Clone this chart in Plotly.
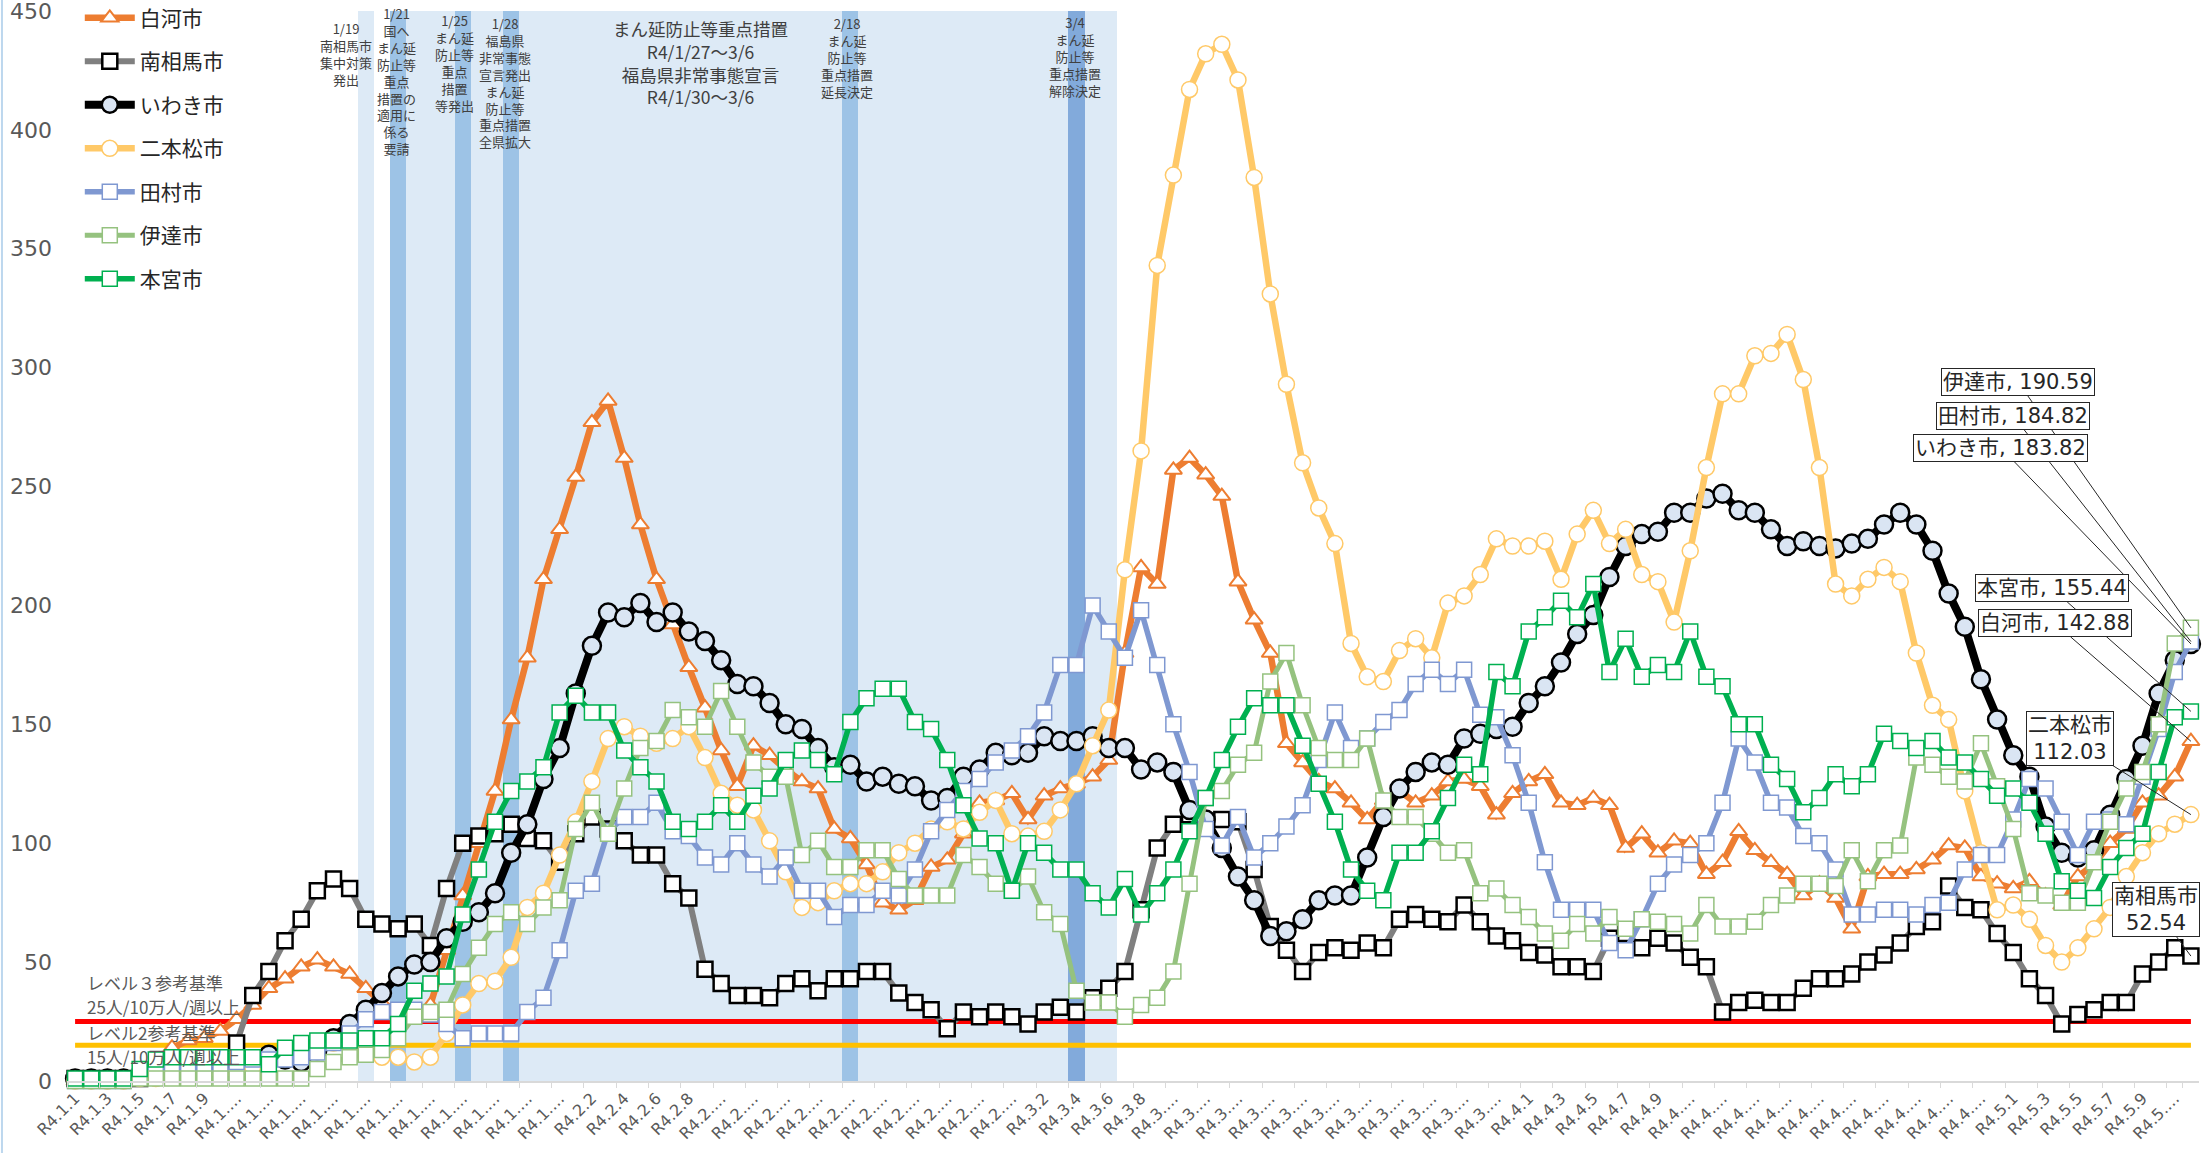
import plotly.graph_objects as go

# ---------------- categories (one per day, R4.1.1 .. R4.5.12) ----------------
month_lengths = [(1, 31), (2, 28), (3, 31), (4, 30), (5, 12)]
month_day = [(m, d) for m, n in month_lengths for d in range(1, n + 1)]
dates = [f"R4.{m}.{d}" for m, d in month_day]
# displayed tick labels (every 2nd day; two-digit days are shown truncated as in the original)
tick_vals = dates[::2]
tick_text = [f"R4.{m}.{d}" if d < 10 else f"R4.{m}.…" for (m, d) in month_day[::2]]

# ---------------- series values (per 100k per week) ----------------
shirakawa = [0, 0, 0, 0, 2, 8, 14, 17, 18, 21,
             26, 32, 39, 43, 48, 51, 48, 45, 39, 33,
             29, 28, 32, 55, 78, 100, 122, 152, 178, 211,
             232, 254, 277, 286, 262, 234, 211, 192, 174, 157,
             139, 124, 141, 137, 131, 126, 123, 106, 102, 91,
             75, 72, 76, 90, 93, 104, 117, 118, 121, 110,
             120, 123, 125, 128, 135, 180, 216, 209, 257, 262,
             255, 246, 210, 194, 180, 142, 134, 126, 123, 117,
             110, 118, 122, 117, 120, 126, 127, 124, 112, 121,
             126, 129, 117, 116, 119, 116, 98, 104, 96, 101,
             100, 87, 92, 105, 97, 92, 87, 78, 83, 77,
             64, 86, 87, 87, 89, 93, 99, 98, 86, 83,
             81, 84, 78, 74, 86, 91, 100, 106, 117, 120,
             128, 142.88]

minamisoma = [1, 1, 1, 1, 1, 2, 3, 4, 5, 8,
              16, 36, 46, 59, 68, 80, 85, 81, 68, 66,
              64, 66, 57, 81, 100, 103, 104, 108, 102, 101,
              92, 104, 111, 106, 101, 95, 95, 83, 77, 47,
              41, 36, 36, 35, 41, 43, 38, 43, 43, 46,
              46, 37, 33, 30, 22, 29, 27, 29, 27, 24,
              29, 31, 29, 35, 39, 46, 72, 98, 108, 112,
              108, 110, 109, 89, 65, 55, 46, 54, 56, 55,
              58, 56, 68, 70, 68, 67, 74, 67, 61, 59,
              54, 53, 48, 48, 46, 60, 62, 56, 60, 58,
              52, 48, 29, 33, 34, 33, 33, 39, 43, 43,
              45, 50, 53, 58, 65, 67, 82, 73, 72, 62,
              54, 43, 36, 24, 28, 30, 33, 33, 45, 50,
              56, 52.54]

iwaki = [1, 1, 1, 1, 2, 2, 3, 3, 4, 5,
         5, 8, 11, 9, 8, 13, 18, 24, 30, 37,
         44, 49, 50, 60, 67, 71, 79, 96, 108, 127,
         140, 163, 183, 197, 195, 201, 193, 197, 189, 185,
         177, 167, 166, 159, 150, 148, 140, 132, 133, 126,
         128, 125, 124, 118, 119, 128, 131, 138, 137, 138,
         145, 143, 143, 145, 140, 140, 131, 134, 130, 114,
         110, 98, 86, 76, 61, 63, 68, 76, 78, 78,
         94, 111, 123, 130, 134, 133, 144, 146, 148, 149,
         159, 166, 176, 188, 196, 212, 225, 230, 231, 239,
         239, 245, 247, 240, 239, 232, 225, 227, 225, 224,
         226, 228, 234, 239, 234, 223, 205, 191, 169, 152,
         137, 128, 107, 96, 94, 97, 112, 127, 141, 163,
         177, 183.82]

nihonmatsu = [0, 0, 0, 0, 1, 1, 2, 2, 3, 3,
              4, 6, 8, 10, 13, 15, 16, 15, 13, 10,
              10, 8, 10, 20, 32, 41, 42, 52, 73, 79,
              95, 109, 126, 144, 149, 145, 142, 144, 149, 136,
              121, 116, 114, 101, 88, 73, 75, 80, 83, 83,
              88, 96, 100, 106, 109, 106, 113, 118, 104, 103,
              105, 114, 125, 141, 156, 215, 265, 343, 381, 417,
              432, 436, 421, 380, 331, 293, 260, 241, 226, 184,
              170, 168, 181, 186, 178, 201, 204, 213, 228, 225,
              225, 227, 211, 230, 240, 226, 232, 213, 210, 193,
              223, 258, 289, 289, 305, 306, 314, 295, 258, 209,
              204, 211, 216, 210, 180, 158, 152, 122, 96, 72,
              74, 68, 57, 50, 56, 64, 73, 86, 96, 104,
              108, 112.03]

tamura = [0, 0, 0, 0, 2, 4, 5, 6, 7, 7,
          8, 9, 9, 9, 10, 12, 16, 20, 26, 29,
          30, 30, 28, 24, 18, 20, 20, 20, 29, 35,
          55, 80, 83, 105, 111, 111, 117, 105, 103, 94,
          91, 100, 91, 86, 94, 80, 80, 69, 74, 74,
          80, 78, 89, 105, 114, 122, 127, 134, 139, 145,
          155, 175, 175, 200, 189, 178, 198, 175, 150, 130,
          106, 99, 111, 94, 100, 107, 116, 135, 155, 140,
          144, 151, 156, 167, 173, 167, 173, 154, 153, 137,
          117, 92, 72, 72, 72, 58, 55, 68, 83, 91,
          95, 100, 117, 144, 134, 117, 115, 103, 100, 89,
          70, 70, 72, 72, 70, 74, 75, 89, 95, 95,
          110, 127, 123, 109, 95, 109, 110, 108, 128, 148,
          172, 184.82]

date_city = [0, 0, 0, 0, 1, 1, 1, 1, 1, 1,
             1, 1, 1, 1, 1, 5, 8, 10, 11, 13,
             18, 27, 29, 30, 45, 56, 66, 71, 66, 73,
             76, 106, 117, 104, 123, 140, 143, 156, 153, 149,
             164, 149, 134, 128, 128, 95, 101, 90, 90, 97,
             97, 85, 78, 78, 78, 95, 90, 83, 80, 86,
             71, 66, 38, 33, 33, 27, 32, 35, 46, 83,
             119, 122, 133, 138, 168, 180, 158, 140, 135, 135,
             144, 118, 111, 111, 104, 96, 97, 79, 81, 74,
             69, 62, 59, 66, 62, 69, 64, 68, 67, 66,
             62, 74, 65, 65, 67, 74, 78, 83, 83, 82,
             97, 84, 97, 99, 136, 133, 128, 126, 142, 124,
             106, 79, 78, 75, 75, 92, 109, 123, 130, 150,
             184, 190.59]

motomiya = [1, 1, 1, 1, 5, 9, 10, 10, 10, 10,
            10, 10, 7, 14, 16, 17, 17, 17, 18, 18,
            24, 38, 41, 44, 70, 89, 109, 122, 126, 132,
            155, 162, 155, 155, 139, 132, 126, 109, 106, 109,
            116, 109, 120, 123, 135, 139, 135, 129, 151, 161,
            165, 165, 151, 148, 135, 116, 102, 100, 80, 100,
            96, 89, 89, 79, 73, 85, 70, 79, 89, 105,
            119, 135, 149, 161, 158, 158, 141, 125, 109, 89,
            80, 76, 96, 96, 105, 119, 133, 129, 172, 166,
            189, 195, 202, 195, 209, 172, 186, 170, 175, 172,
            189, 170, 166, 150, 150, 133, 127, 113, 119, 129,
            124, 129, 146, 143, 140, 143, 136, 134, 127, 120,
            123, 117, 104, 84, 80, 77, 90, 98, 104, 130,
            153, 155.44]

# reference levels
level3 = 25
level2 = 15

# shaded periods / event days
light_days = ["R4.1.19"] + dates[dates.index("R4.1.22"): dates.index("R4.3.6") + 1]
event_days = ["R4.1.21", "R4.1.25", "R4.1.28", "R4.2.18"]
event_days_dark = ["R4.3.4"]
shade_top = 450

JP = "Noto Sans CJK JP"
LAT = "DejaVu Sans"
MIX = "DejaVu Sans, Noto Sans CJK JP"

fig = go.Figure()

# shading bars
fig.add_trace(go.Bar(x=light_days, y=[shade_top] * len(light_days), width=1,
                     marker=dict(color="#DDEAF6", line=dict(width=0)),
                     showlegend=False, hoverinfo="skip"))
fig.add_trace(go.Bar(x=event_days, y=[shade_top] * len(event_days), width=1,
                     marker=dict(color="#9DC3E6", line=dict(width=0)),
                     showlegend=False, hoverinfo="skip"))
fig.add_trace(go.Bar(x=event_days_dark, y=[shade_top] * len(event_days_dark), width=1,
                     marker=dict(color="#82AADB", line=dict(width=0)),
                     showlegend=False, hoverinfo="skip"))

# reference level lines
fig.add_trace(go.Scatter(x=dates, y=[level3] * len(dates), mode="lines",
                         line=dict(color="#FF0000", width=5), showlegend=False, hoverinfo="skip"))
fig.add_trace(go.Scatter(x=dates, y=[level2] * len(dates), mode="lines",
                         line=dict(color="#FFC000", width=5), showlegend=False, hoverinfo="skip"))

series = [
    ("白河市", shirakawa, dict(color="#ED7D31", width=6.5),
     dict(symbol="triangle-up", size=15, color="white", line=dict(color="#ED7D31", width=2))),
    ("南相馬市", minamisoma, dict(color="#808080", width=6),
     dict(symbol="square", size=15, color="white", line=dict(color="black", width=2.5))),
    ("いわき市", iwaki, dict(color="black", width=8),
     dict(symbol="circle", size=18, color="#DAE5F3", line=dict(color="black", width=2.5))),
    ("二本松市", nihonmatsu, dict(color="#FFC968", width=6.5),
     dict(symbol="circle", size=16, color="white", line=dict(color="#FFC968", width=1.5))),
    ("田村市", tamura, dict(color="#7F98D1", width=5.5),
     dict(symbol="square", size=15, color="white", line=dict(color="#7F98D1", width=1.5))),
    ("伊達市", date_city, dict(color="#95C27F", width=5),
     dict(symbol="square", size=15, color="white", line=dict(color="#95C27F", width=1.5))),
    ("本宮市", motomiya, dict(color="#00B050", width=5.5),
     dict(symbol="square", size=15, color="white", line=dict(color="#00B050", width=1.5))),
]
for k, (name, vals, ln, mk) in enumerate(series):
    fig.add_trace(go.Scatter(x=dates, y=vals, name=name, mode="lines+markers",
                             line=ln, marker=mk, cliponaxis=False, legendgroup=f"g{k}"))

ann = []
txt_col = "#404040"
# event notes (x as category index)
events = [
    (16.8, 0.9598, "1/19<br>南相馬市<br>集中対策<br>発出", 13),
    (19.9, 0.9346, "1/21<br>国へ<br>まん延<br>防止等<br>重点<br>措置の<br>適用に<br>係る<br>要請", 13),
    (23.5, 0.9514, "1/25<br>まん延<br>防止等<br>重点<br>措置<br>等発出", 13),
    (26.6, 0.9336, "1/28<br>福島県<br>非常事態<br>宣言発出<br>まん延<br>防止等<br>重点措置<br>全県拡大", 13),
    (38.7, 0.9523, "まん延防止等重点措置<br>R4/1/27～3/6<br>福島県非常事態宣言<br>R4/1/30～3/6", 17.5),
    (47.8, 0.9565, "2/18<br>まん延<br>防止等<br>重点措置<br>延長決定", 13),
    (61.9, 0.9575, "3/4<br>まん延<br>防止等<br>重点措置<br>解除決定", 13),
]
for x, y, t, fs in events:
    ann.append(dict(x=x, y=y, xref="x", yref="paper", text=t, showarrow=False,
                    xanchor="center", yanchor="middle", align="center",
                    font=dict(family=JP, size=fs, color=txt_col)))

# level labels
for y, t in [(41.6, "レベル３参考基準"), (31.5, "25人/10万人/週以上"),
             (20.6, "レベル2参考基準"), (10.1, "15人/10万人/週以上")]:
    ann.append(dict(x=0.6, y=y, xref="x", yref="y", text=t, showarrow=False,
                    xanchor="left", yanchor="middle",
                    font=dict(family=JP, size=17, color="#595959")))

# callouts for last values
last = dates[-1]
callouts = [
    ("伊達市, 190.59", date_city[-1], -173, -246),
    ("田村市, 184.82", tamura[-1], -178, -226),
    ("いわき市, 183.82", iwaki[-1], -190, -196),
    ("本宮市, 155.44", motomiya[-1], -139, -123),
    ("白河市, 142.88", shirakawa[-1], -136, -118),
    ("二本松市<br>112.03", nihonmatsu[-1], -121, -76),
    ("南相馬市<br>52.54", minamisoma[-1], -35, -47),
]
for t, v, ax, ay in callouts:
    ann.append(dict(x=last, y=v, xref="x", yref="y", text=t, showarrow=True,
                    arrowhead=0, arrowwidth=1, arrowcolor="#262626", ax=ax, ay=ay,
                    bgcolor="white", bordercolor="#262626", borderwidth=1, borderpad=1,
                    font=dict(family=MIX, size=21, color="#262626")))

fig.update_layout(
    width=2203, height=1153,
    margin=dict(l=67, r=4, t=11, b=72, autoexpand=False),
    paper_bgcolor="white", plot_bgcolor="white",
    barmode="overlay", bargap=0,
    showlegend=True,
    legend=dict(x=0.006, y=1.0125, xanchor="left", yanchor="top",
                bgcolor="rgba(0,0,0,0)", font=dict(family=JP, size=21, color="#262626"),
                itemwidth=50, tracegroupgap=13.2, traceorder="grouped"),
    annotations=ann,
    shapes=[dict(type="line", xref="paper", yref="paper", x0=-0.0305, x1=-0.0305,
                 y0=-0.07, y1=1.02, line=dict(color="#BDD7EE", width=2))],
    hovermode=False,
)
fig.update_xaxes(type="category", categoryorder="array", categoryarray=dates,
                 range=[-0.5, len(dates) - 0.5],
                 tickmode="array", tickvals=tick_vals, ticktext=tick_text,
                 tickangle=-45, tickson="boundaries",
                 tickfont=dict(family=LAT, size=16, color="#595959"),
                 showline=True, linecolor="#D9D9D9", linewidth=1.5,
                 ticks="outside", ticklen=5, tickcolor="#D9D9D9",
                 showgrid=False, zeroline=False, ticklabeloverflow="allow")
fig.update_yaxes(range=[0, 450], tickmode="array", tickvals=list(range(0, 451, 50)),
                 tickfont=dict(family=LAT, size=22, color="#595959"),
                 showgrid=False, zeroline=False, showline=False, ticks="",
                 ticklabelstandoff=14, ticklabeloverflow="allow")

fig.write_html("out.html", config={"displayModeBar": False},
               post_script="document.body.style.margin='0';")
